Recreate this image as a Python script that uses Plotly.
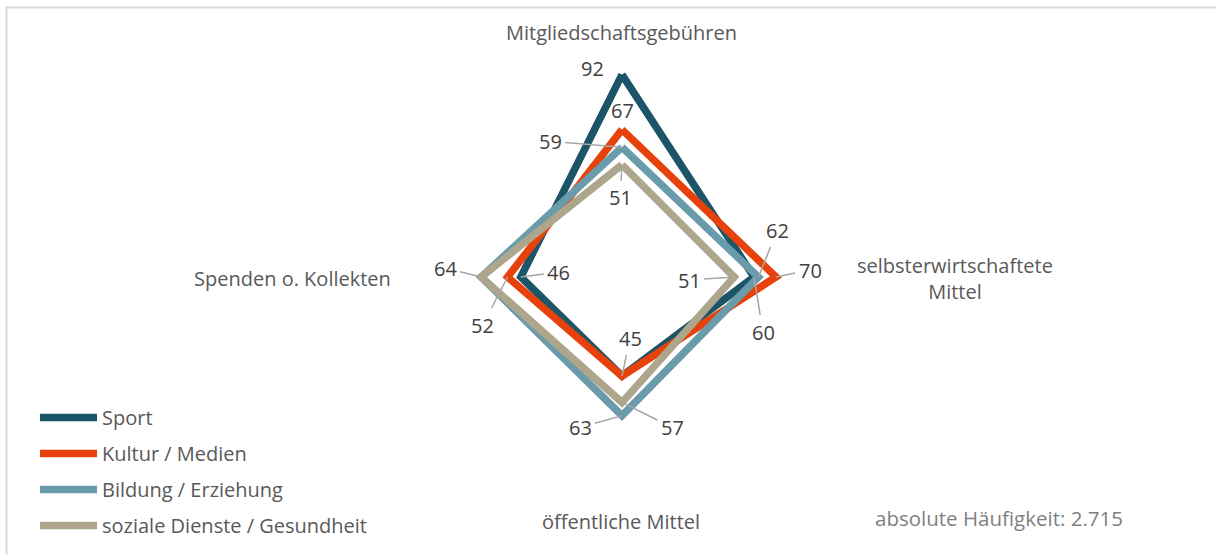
import math
import plotly.graph_objects as go

# categories in clockwise order, starting at the top
categories = ["Mitgliedschaftsgebühren", "selbsterwirtschaftete Mittel",
              "öffentliche Mittel", "Spenden o. Kollekten"]
category_labels = ["Mitgliedschaftsgebühren", "selbsterwirtschaftete<br>Mittel",
                   "öffentliche Mittel", "Spenden o. Kollekten"]

series_names = ["Sport", "Kultur / Medien", "Bildung / Erziehung",
                "soziale Dienste / Gesundheit"]
sport = [92, 60, 45, 46]
kultur = [67, 70, 45, 52]
bildung = [59, 62, 63, 64]
soziale = [51, 51, 57, 64]
series_values = [sport, kultur, bildung, soziale]

COLORS = ["#1B5567", "#E8420C", "#6A9BAB", "#ADA58C"]

# value labels: (series index, category index, dx, dy, leader line)
LABELS = [
    (0, 0, -30, -6, False), (1, 0, 0, -19, False), (2, 0, -72, -6, True), (3, 0, -2, 33, True),
    (0, 1, 9, 55, True), (1, 1, 34, -7, True), (2, 1, 19, -47, True), (3, 1, -45, 3, True),
    (1, 2, 8, -38, True), (3, 2, 50, 25, True), (2, 2, -42, 12, True),
    (2, 3, -36, -9, True), (1, 3, -25, 48, True), (0, 3, 38, -5, True),
]

W, H = 1216, 554
CX, CY, R = 622, 277, 220
dom_x = [(CX - R) / W, (CX + R) / W]
dom_y = [(H - CY - R) / H, (H - CY + R) / H]

FONT = "Open Sans"
TEXT = "#595959"

fig = go.Figure()

for i, (name, vals) in enumerate(zip(series_names, series_values)):
    fig.add_trace(go.Scatterpolar(
        r=vals + vals[:1],
        theta=categories + categories[:1],
        mode="lines",
        name=name,
        legendgroup=name,
        line=dict(color=COLORS[i], width=7.5),
        hoverinfo="name+r+theta",
    ))

# hidden cartesian axes on top of the polar area, used to anchor annotations
fig.add_trace(go.Scatter(x=[None], y=[None], showlegend=False, hoverinfo="skip"))

annotations = []
for s, c, dx, dy, leader in LABELS:
    v = series_values[s][c]
    ang = math.radians(90 * c)
    px, py = v * math.sin(ang), v * math.cos(ang)
    ann = dict(x=px, y=py, xref="x", yref="y", text=str(v),
               font=dict(family=FONT, size=20, color="#404040"))
    if leader:
        ann.update(showarrow=True, ax=dx, ay=dy, arrowhead=0, arrowwidth=1.5,
                   arrowcolor="#A6A6A6", standoff=0, startstandoff=2)
    else:
        ann.update(showarrow=False, xshift=dx, yshift=-dy)
    annotations.append(ann)

# category labels
cat_pos = [(621, 33), (955, 278), (621, 521), (292, 278)]
for lab, (x, y) in zip(category_labels, cat_pos):
    annotations.append(dict(x=x / W, y=1 - y / H, xref="paper", yref="paper",
                            xanchor="center", yanchor="middle",
                            text=lab, showarrow=False, align="center",
                            font=dict(family=FONT, size=20, color=TEXT)))

annotations.append(dict(x=999 / W, y=1 - 518 / H, xref="paper", yref="paper",
                        xanchor="center", yanchor="middle",
                        text="absolute Häufigkeit: 2.715", showarrow=False,
                        font=dict(family=FONT, size=20.5, color="#7F7F7F")))

fig.update_layout(
    width=W, height=H,
    margin=dict(l=0, r=0, t=0, b=0),
    paper_bgcolor="white",
    plot_bgcolor="rgba(0,0,0,0)",
    polar=dict(
        domain=dict(x=dom_x, y=dom_y),
        bgcolor="rgba(0,0,0,0)",
        angularaxis=dict(rotation=90, direction="clockwise", showticklabels=False,
                         showgrid=False, showline=False, ticks=""),
        radialaxis=dict(range=[0, 100], visible=False, showgrid=False),
    ),
    xaxis=dict(domain=dom_x, range=[-100, 100], visible=False, fixedrange=True),
    yaxis=dict(domain=dom_y, range=[-100, 100], visible=False, fixedrange=True),
    legend=dict(x=35 / W, y=1 - 398 / H, xanchor="left", yanchor="top",
                font=dict(family=FONT, size=20, color=TEXT),
                tracegroupgap=7, itemwidth=57, bgcolor="rgba(0,0,0,0)"),
    annotations=annotations,
    shapes=[dict(type="rect", xref="paper", yref="paper",
                 x0=6.5 / W, x1=1.01, y0=-0.01, y1=1 - 7.5 / H,
                 line=dict(color="#D9D9D9", width=2))],
    showlegend=True,
)

# drop the default page margin so the figure sits at the window's corner
fig.write_html("out.html", config={"displayModeBar": False},
               post_script="document.body.style.margin='0';")
